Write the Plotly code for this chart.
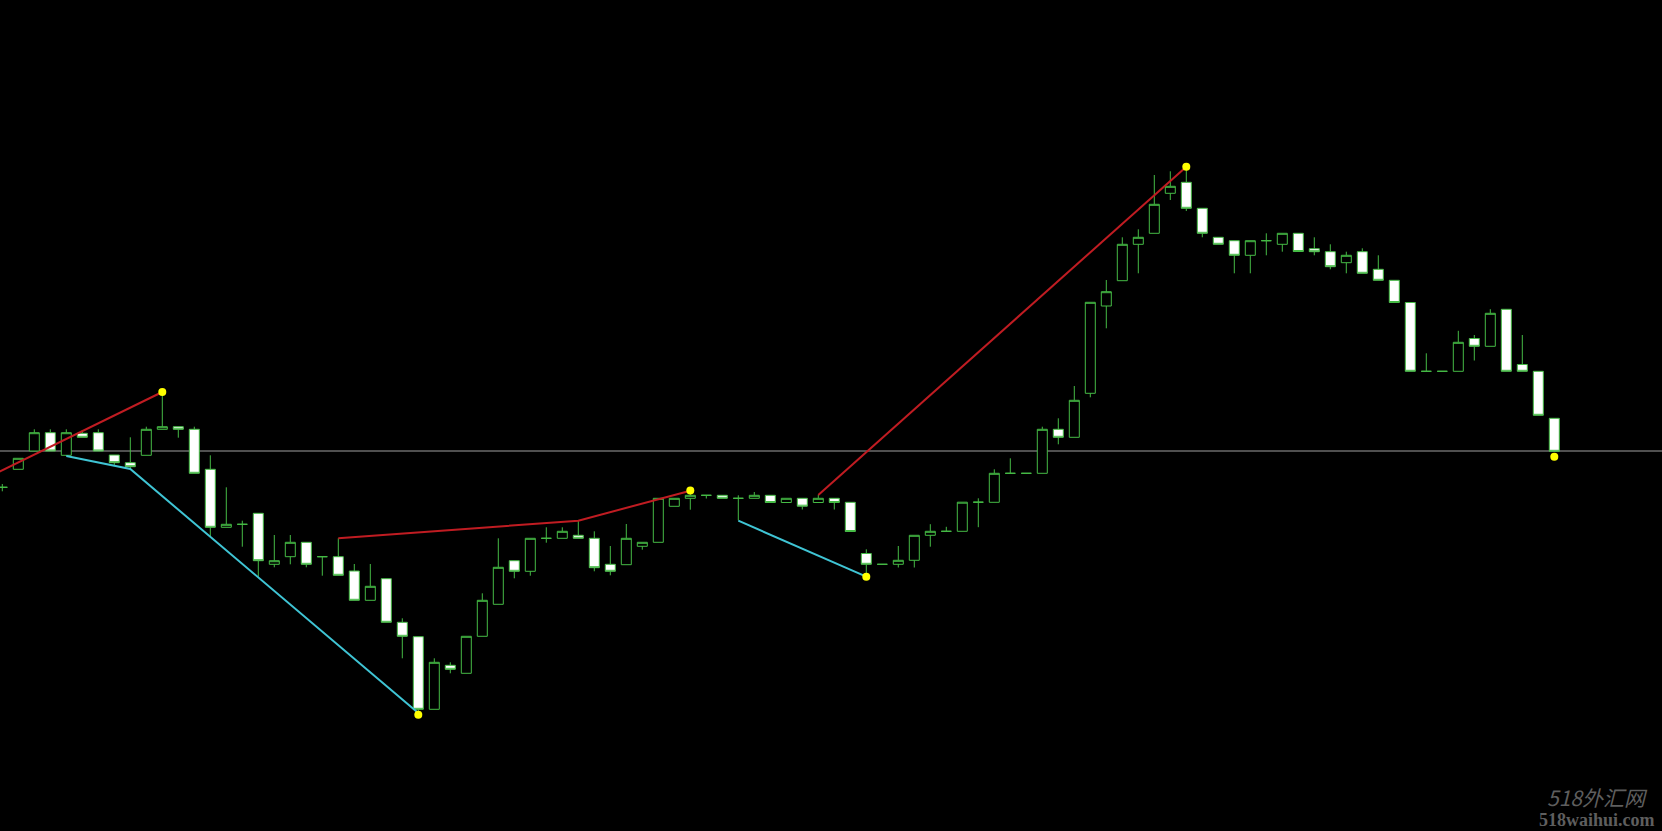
import plotly.graph_objects as go

# Candle index (time slots) and OHLC values (arbitrary price units)
idx = list(range(98))
opens = [343.7, 361.7, 380.0, 398.3, 375.7, 397.7, 398.3, 376.0, 368.3, 375.7,
         401.7, 404.3, 401.7, 361.7, 303.7, 306.7, 317.7, 266.7, 274.3, 288.7,
         274.3, 274.3, 260.0, 230.7, 252.3, 208.7, 194.3, 121.7, 165.7, 157.7,
         194.7, 226.7, 270.3, 259.7, 292.7, 292.7, 295.7, 292.7, 266.7, 266.3,
         284.7, 288.7, 324.7, 332.7, 335.7, 335.7, 332.7, 332.7, 335.7, 328.5,
         332.7, 328.5, 332.7, 328.7, 277.5, 266.7, 266.7, 270.7, 295.7, 299.7,
         299.7, 328.8, 328.7, 357.7, 357.7, 357.7, 401.7, 393.7, 437.7, 525.0,
         550.3, 586.7, 597.7, 637.7, 648.7, 622.7, 593.7, 590.3, 575.7, 590.3,
         586.7, 597.7, 582.3, 579.3, 568.3, 579.3, 561.7, 550.7, 528.5, 459.7,
         459.7, 459.7, 492.5, 484.7, 521.7, 466.5, 459.7, 412.7]
highs = [347.0, 372.7, 401.7, 401.7, 401.7, 401.0, 401.7, 376.0, 393.7, 404.3,
         436.0, 404.3, 404.3, 375.7, 343.7, 310.3, 317.7, 296.0, 296.0, 288.7,
         274.3, 292.7, 267.0, 267.0, 252.3, 212.7, 194.3, 172.7, 168.7, 194.7,
         237.7, 292.7, 270.3, 292.7, 303.7, 303.7, 310.3, 299.7, 285.0, 307.0,
         288.7, 332.7, 332.7, 340.3, 335.7, 335.7, 335.7, 339.0, 335.7, 332.7,
         332.7, 336.0, 332.7, 328.7, 281.7, 266.7, 285.0, 295.7, 306.8, 304.2,
         328.8, 332.7, 361.7, 372.7, 357.7, 404.3, 412.7, 445.0, 528.7, 551.0,
         593.7, 601.7, 656.0, 659.7, 661.0, 622.7, 593.7, 590.3, 590.3, 597.7,
         597.7, 597.7, 593.7, 586.7, 579.3, 582.7, 575.7, 550.7, 528.5, 477.7,
         459.7, 500.2, 496.0, 521.8, 521.7, 496.0, 459.7, 412.7]
lows = [339.7, 361.7, 380.0, 380.0, 375.0, 393.7, 380.0, 366.0, 362.0, 375.7,
        401.7, 393.3, 357.7, 294.3, 303.7, 284.3, 254.3, 263.7, 266.7, 263.7,
        255.3, 255.7, 230.7, 230.7, 208.7, 172.7, 120.0, 121.7, 157.7, 157.7,
        194.7, 226.7, 252.7, 255.3, 288.3, 292.7, 292.7, 259.7, 255.7, 266.3,
        281.3, 288.7, 324.7, 321.3, 332.5, 332.7, 310.7, 332.7, 328.5, 328.5,
        321.5, 328.5, 321.5, 299.5, 257.0, 266.7, 263.5, 263.5, 284.3, 299.7,
        299.7, 303.8, 328.7, 357.7, 357.7, 357.7, 386.7, 393.7, 433.7, 502.7,
        550.3, 557.7, 597.7, 631.0, 620.0, 593.7, 586.7, 557.7, 557.7, 575.7,
        579.3, 579.5, 575.7, 561.7, 557.7, 557.7, 550.7, 528.5, 459.7, 459.7,
        459.7, 459.7, 470.5, 484.7, 459.7, 459.7, 415.7, 379.7]
closes = [343.7, 372.7, 398.3, 380.0, 398.3, 393.7, 380.0, 368.3, 364.3, 401.7,
          404.3, 401.7, 357.7, 303.7, 306.7, 306.7, 270.3, 270.3, 288.7, 266.7,
          274.3, 255.7, 230.7, 244.7, 208.7, 194.7, 121.7, 168.7, 161.7, 194.7,
          230.7, 263.7, 259.7, 292.7, 292.7, 299.7, 292.7, 263.3, 259.7, 292.7,
          288.7, 332.7, 332.7, 335.7, 335.7, 332.7, 332.7, 335.7, 328.5, 332.7,
          324.8, 332.7, 328.5, 299.5, 266.7, 266.7, 270.7, 295.7, 299.7, 299.7,
          328.8, 328.8, 357.7, 357.7, 357.7, 401.7, 393.7, 430.7, 528.7, 539.3,
          586.7, 593.7, 626.7, 644.7, 622.7, 597.7, 586.7, 575.7, 590.3, 590.3,
          597.7, 579.5, 579.3, 564.3, 575.7, 557.7, 550.7, 528.5, 459.7, 459.7,
          459.7, 488.7, 484.7, 517.7, 459.7, 459.7, 415.7, 379.7]

# Zigzag-style lines (index, price)
red_lines = [
    ([-2, 10], [345.0, 439.0]),
    ([21, 36, 43], [292.7, 310.3, 340.3]),
    ([51, 74], [336.0, 664.3]),
]
cyan_lines = [
    ([4, 8, 26], [375.0, 362.0, 118.0]),
    ([46, 54], [310.3, 254.3]),
]
dot_x = [10, 26, 43, 54, 74, 97]
dot_y = [439.0, 116.3, 340.5, 254.3, 664.3, 374.3]
level_price = 380.0

GREEN = "#45bb45"

fig = go.Figure()

for xs, ys in red_lines:
    fig.add_trace(go.Scatter(x=xs, y=ys, mode="lines",
                             line=dict(color="#c01c22", width=2),
                             hoverinfo="skip", showlegend=False))
for xs, ys in cyan_lines:
    fig.add_trace(go.Scatter(x=xs, y=ys, mode="lines",
                             line=dict(color="#3fc4d4", width=2),
                             hoverinfo="skip", showlegend=False))

fig.add_trace(go.Candlestick(
    x=idx, open=opens, high=highs, low=lows, close=closes,
    increasing=dict(line=dict(color=GREEN, width=1), fillcolor="#000000"),
    decreasing=dict(line=dict(color=GREEN, width=1), fillcolor="#ffffff"),
    whiskerwidth=0, showlegend=False,
))

fig.add_trace(go.Scatter(x=dot_x, y=dot_y, mode="markers",
                         marker=dict(color="#ffff00", size=8),
                         hoverinfo="skip", showlegend=False))

fig.add_hline(y=level_price, line=dict(color="#a0a0a0", width=1), layer="below")

fig.add_annotation(text="<i>518外汇网</i>", xref="paper", yref="paper",
                   x=1650 / 1662, y=1 - 797 / 831, xanchor="right", yanchor="middle",
                   showarrow=False,
                   font=dict(family="Noto Sans CJK SC", size=21, color="#5e5e5e"))
fig.add_annotation(text="<b>518waihui.com</b>", xref="paper", yref="paper",
                   x=1657 / 1662, y=1 - 820 / 831, xanchor="right", yanchor="middle",
                   showarrow=False,
                   font=dict(family="Liberation Serif", size=18, color="#5e5e5e"))

fig.update_layout(
    width=1662, height=831,
    paper_bgcolor="#000000", plot_bgcolor="#000000",
    margin=dict(l=0, r=0, t=0, b=0),
    boxgap=0.375, boxgroupgap=0,
    xaxis=dict(range=[-0.14375, 103.73125], visible=False,
               rangeslider=dict(visible=False), showgrid=False, zeroline=False),
    yaxis=dict(range=[0, 831], visible=False, showgrid=False, zeroline=False),
    showlegend=False,
)

fig.write_html("out.html", config={"displayModeBar": False},
               post_script="document.body.style.margin='0';document.body.style.overflow='hidden';")
